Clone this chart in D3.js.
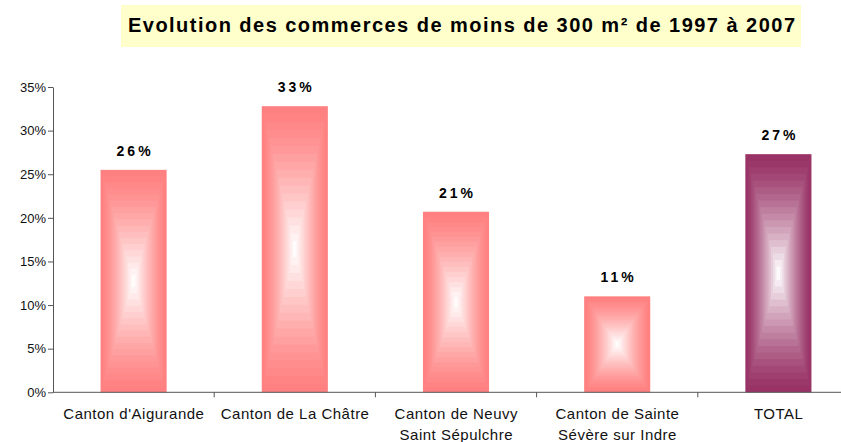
<!DOCTYPE html>
<html>
<head>
<meta charset="utf-8">
<script src="https://cdn.jsdelivr.net/npm/d3@7"></script>
<style>
  body { margin: 0; background: #fff; }
  text { font-family: "Liberation Sans", Arial, sans-serif; }
</style>
</head>
<body>
<div id="chart-area"></div>
<script>
// commerces < 300 m2, evolution 1997-2007

const categories = [
  ["Canton d'Aigurande"],
  ["Canton de La Châtre"],
  ["Canton de Neuvy", "Saint Sépulchre"],
  ["Canton de Sainte", "Sévère sur Indre"],
  ["TOTAL"]
]
const values = [25.5, 32.8, 20.7, 11.0, 27.3]
const valueLabels = ["26%", "33%", "21%", "11%", "27%"]
const yTicks = [0, 5, 10, 15, 20, 25, 30, 35]
const titleText = "Evolution des commerces de moins de 300 m² de 1997 à 2007"

const W = 841, H = 442
const MARGIN = {LEFT: 53, TOP: 87, BOTTOM: 50}
const STEP = 161.2
const plotH = H - MARGIN.TOP - MARGIN.BOTTOM + 0.3

const svg = d3.select("#chart-area").append("svg")
    .attr("width", W)
    .attr("height", H)

// title box
svg.append("rect")
    .attr("x", 121).attr("y", 5)
    .attr("width", 680).attr("height", 42)
    .attr("fill", "#FFFFCC")
svg.append("text")
    .attr("x", 128).attr("y", 32)
    .attr("font-size", "20px")
    .attr("font-weight", "bold")
    .attr("fill", "#000")
    .attr("textLength", 667)
    .attr("lengthAdjust", "spacing")
    .text(titleText)

const names = categories.map(d => d.join(" "))

const x = d3.scaleBand()
    .domain(names)
    .range([MARGIN.LEFT, MARGIN.LEFT + STEP * names.length])
    .paddingInner(0.59)
    .paddingOuter(0.295)

const y = d3.scaleLinear()
    .domain([0, 35])
    .range([MARGIN.TOP + plotH, MARGIN.TOP])

// bars: concentric rectangles fading from the edge colour to white
const STEPS = 18
const bars = svg.append("g")
names.forEach((name, i) => {
  const base = i === names.length - 1 ? "#993366" : "#FF8080"
  const x0 = x(name), w = x.bandwidth()
  const y0 = y(values[i]), h = y(0) - y(values[i])
  const col = d3.interpolateRgb(base, "#ffffff")
  for (let s = 0; s < STEPS; s++) {
    const t = s / STEPS
    const k = Math.pow(t, 1.3)
    bars.append("rect")
        .attr("x", x0 + t * w / 2)
        .attr("y", y0 + t * h / 2)
        .attr("width", w * (1 - t))
        .attr("height", h * (1 - t))
        .attr("fill", col(Math.min(1, k * 1.05)))
  }
  svg.append("text")
      .attr("x", x0 + w / 2 + 1.5)
      .attr("y", y0 - 14)
      .attr("text-anchor", "middle")
      .attr("font-size", "14px")
      .attr("font-weight", "bold")
      .attr("letter-spacing", "3px")
      .attr("fill", "#000")
      .text(valueLabels[i])
})

// y axis
const yAxisCall = d3.axisLeft(y)
    .tickValues(yTicks)
    .tickSize(5)
    .tickSizeOuter(0)
    .tickFormat(d => d + "%")
const yg = svg.append("g")
    .attr("transform", `translate(${MARGIN.LEFT}, 0)`)
    .call(yAxisCall)
yg.select(".domain").attr("stroke", "#555")
yg.selectAll(".tick line").attr("stroke", "#555")
yg.selectAll(".tick text")
    .attr("font-size", "13px")
    .attr("font-family", "Liberation Sans, Arial, sans-serif")
    .attr("fill", "#111")
    .attr("x", -7)

// x axis
const xg = svg.append("g")
xg.append("line")
    .attr("x1", MARGIN.LEFT).attr("x2", W)
    .attr("y1", y(0)).attr("y2", y(0))
    .attr("stroke", "#555")
d3.range(1, names.length).forEach(k => {
  const bx = MARGIN.LEFT + k * x.step()
  xg.append("line")
      .attr("x1", bx).attr("x2", bx)
      .attr("y1", y(0)).attr("y2", y(0) + 5)
      .attr("stroke", "#555")
})
categories.forEach((lines, i) => {
  const t = xg.append("text")
      .attr("text-anchor", "middle")
      .attr("font-size", "15px")
      .attr("letter-spacing", "0.5px")
      .attr("fill", "#111")
  lines.forEach((ln, j) => {
    t.append("tspan")
        .attr("x", x(names[i]) + x.bandwidth() / 2 + 0.3)
        .attr("y", y(0) + 27 + j * 21)
        .text(ln)
  })
})
</script>
</body>
</html>
